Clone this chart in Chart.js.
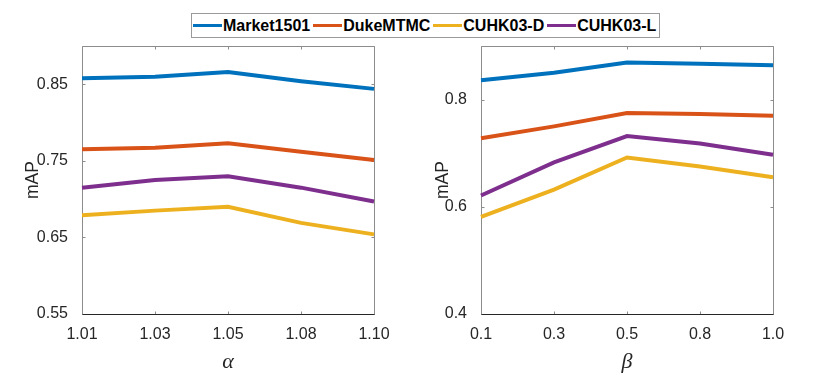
<!DOCTYPE html>
<html><head><meta charset="utf-8">
<script src="https://cdn.jsdelivr.net/npm/chart.js@4"></script>
<style>
html,body{margin:0;padding:0;background:#fff;}
#wrap{position:relative;width:830px;height:384px;overflow:hidden;background:#fff;}
#cL{position:absolute;left:0;top:0;}
#cR{position:absolute;left:415px;top:0;}
#legend{position:absolute;left:191px;top:13px;height:25px;box-sizing:border-box;border:1px solid #9a9a9a;background:#fff;display:flex;align-items:center;padding:0 3px 0 1px;font:bold 16px "Liberation Sans",Arial,sans-serif;color:#000;white-space:nowrap;}
.item{display:flex;align-items:center;margin-right:3px;}
.item:last-child{margin-right:0;}
.sw{width:29px;height:3px;margin-right:1px;}
</style></head>
<body>
<div id="wrap">
<canvas id="cL" width="415" height="384"></canvas>
<canvas id="cR" width="415" height="384"></canvas>
<div id="legend"></div>
</div>
<script>
// ---- data ----
const seriesNames = ['Market1501','DukeMTMC','CUHK03-D','CUHK03-L'];
const seriesColors = ['#0072BD','#D95319','#EDB120','#7E2F8E'];

const alphaLabels = ['1.01','1.03','1.05','1.08','1.10'];
const marketAlpha = [0.858,0.860,0.866,0.854,0.844];
const dukeAlpha   = [0.765,0.767,0.773,0.762,0.751];
const cuhkDAlpha  = [0.679,0.685,0.690,0.669,0.654];
const cuhkLAlpha  = [0.715,0.725,0.730,0.715,0.697];
const yTicksAlpha = [0.55,0.65,0.75,0.85];

const betaLabels = ['0.1','0.3','0.5','0.8','1.0'];
const marketBeta = [0.836,0.850,0.869,0.867,0.864];
const dukeBeta   = [0.728,0.750,0.775,0.773,0.770];
const cuhkDBeta  = [0.581,0.632,0.692,0.675,0.655];
const cuhkLBeta  = [0.621,0.683,0.732,0.718,0.697];
const yTicksBeta = [0.4,0.6,0.8];

// ---- legend (HTML text) ----
const lg = document.getElementById('legend');
seriesNames.forEach((n,i)=>{
  const it = document.createElement('div'); it.className='item';
  const sw = document.createElement('span'); sw.className='sw'; sw.style.background=seriesColors[i];
  const tx = document.createElement('span'); tx.textContent=n;
  it.appendChild(sw); it.appendChild(tx); lg.appendChild(it);
});

const AX = '#262626';
const AXL = '#8c8c8c';
const framePlugin = {
  id:'frame',
  beforeDatasetsDraw(chart){
    const {ctx, chartArea:a, scales:{x,y}} = chart;
    ctx.save();
    ctx.lineWidth = 1;
    const L = Math.round(a.left)+0.5, R = Math.round(a.right)+0.5, T = Math.round(a.top)+0.5, B = Math.round(a.bottom)+0.5;
    ctx.strokeStyle = AXL;
    ctx.beginPath();
    ctx.moveTo(L,B); ctx.lineTo(L,T); ctx.lineTo(R,T); ctx.lineTo(R,B);
    const tl = 3;
    x.ticks.forEach((t,i)=>{
      const px = Math.round(x.getPixelForTick(i))+0.5;
      ctx.moveTo(px,B); ctx.lineTo(px,B-tl);
      ctx.moveTo(px,T); ctx.lineTo(px,T+tl);
    });
    y.ticks.forEach(t=>{
      const py = Math.round(y.getPixelForValue(t.value))+0.5;
      ctx.moveTo(L,py); ctx.lineTo(L+tl,py);
      ctx.moveTo(R,py); ctx.lineTo(R-tl,py);
    });
    ctx.stroke();
    ctx.strokeStyle = AX;
    ctx.beginPath(); ctx.moveTo(L,B); ctx.lineTo(R,B); ctx.stroke();
    ctx.restore();
  }
};

function makeChart(id, labels, data, ymin, ymax, yticks, dec, xTitle, padLeft, yWidth, padRight){
  return new Chart(document.getElementById(id), {
    type:'line',
    data:{
      labels: labels,
      datasets: data.map((d,i)=>({
        label: seriesNames[i], data: d,
        borderColor: seriesColors[i], backgroundColor: seriesColors[i],
        borderWidth: 4, pointRadius: 0, tension: 0, fill:false
      }))
    },
    options:{
      responsive:false, animation:false,
      layout:{padding:{left:padLeft, right:padRight, top:46, bottom:9}},
      plugins:{legend:{display:false}, tooltip:{enabled:false}},
      scales:{
        x:{
          type:'category', offset:false,
          grid:{display:false}, border:{display:false},
          ticks:{color:AX, font:{family:'"Liberation Sans", Arial, sans-serif', size:16}, padding:3, maxRotation:0, autoSkip:false},
          title:{display:true, text:xTitle, color:AX, padding:0,
                 font:{family:'"Liberation Serif", "DejaVu Serif", serif', style:'italic', size:22}},
          afterFit(s){ s.height = 61; }
        },
        y:{
          min:ymin, max:ymax,
          grid:{display:false}, border:{display:false},
          afterBuildTicks(s){ s.ticks = yticks.map(v=>({value:v})); },
          ticks:{color:AX, font:{family:'"Liberation Sans", Arial, sans-serif', size:16}, padding:6,
                 callback:(v)=>Number(v).toFixed(dec)},
          title:{display:true, text:'mAP', color:AX, padding:0,
                 font:{family:'"Liberation Sans", Arial, sans-serif', size:17.5}},
          afterFit(s){ s.width = yWidth; }
        }
      }
    },
    plugins:[framePlugin]
  });
}

makeChart('cL', alphaLabels, [marketAlpha,dukeAlpha,cuhkDAlpha,cuhkLAlpha], 0.55, 0.90, yTicksAlpha, 2, 'α', 23, 59, 41);
makeChart('cR', betaLabels, [marketBeta,dukeBeta,cuhkDBeta,cuhkLBeta], 0.4, 0.9, yTicksBeta, 1, 'β', 18, 48, 57);
</script>
</body></html>
